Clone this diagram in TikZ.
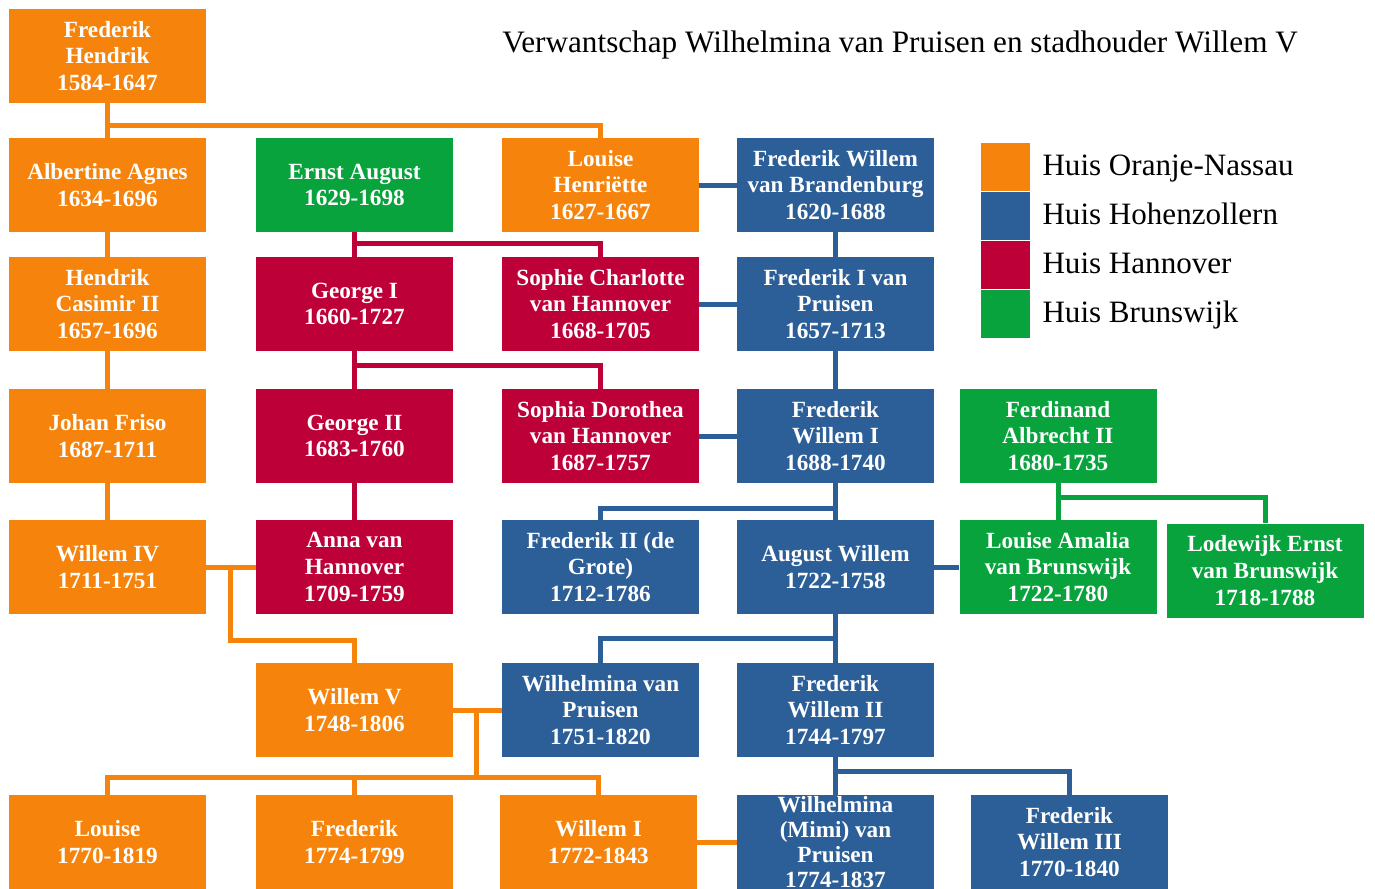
\documentclass[tikz,border=0pt]{standalone}
\usepackage{fontspec}
\setmainfont{Liberation Serif}
\newfontfamily\boxfont{Liberation Serif}
\usetikzlibrary{calc}
\definecolor{cOr}{HTML}{F6840C}
\definecolor{cBl}{HTML}{2C5E97}
\definecolor{cRe}{HTML}{BE0039}
\definecolor{cGr}{HTML}{08A33D}
\begin{document}
\begin{tikzpicture}[x=0.75pt,y=-0.75pt,
  box/.style={minimum width=147.75pt, minimum height=70.5pt, inner sep=0pt, align=center, text=white,
    font=\boxfont\bfseries\fontsize{17.4}{20}\selectfont},
  ob/.style={box, fill=cOr},
  bb/.style={box, fill=cBl},
  rb/.style={box, fill=cRe},
  gb/.style={box, fill=cGr},
  con/.style={line width=3.75pt},
  ocon/.style={con, draw=cOr},
  bcon/.style={con, draw=cBl},
  rcon/.style={con, draw=cRe},
  gcon/.style={con, draw=cGr},
  legsq/.style={minimum width=36.75pt, minimum height=36pt, inner sep=0pt},
  legtx/.style={anchor=base west, font=\fontsize{23.3}{26}\selectfont, inner sep=0pt},
]
\useasboundingbox (0,0) rectangle (1375,889);
\fill[white] (0,0) rectangle (1375,889);

% title
\node[font=\fontsize{23.4}{26}\selectfont] (title) at (900,45) {Verwantschap Wilhelmina van Pruisen en stadhouder Willem V};

% legend
\node[legsq, fill=cOr] (lg1) at (1005.5,167) {};
\node[legsq, fill=cBl] (lg2) at (1005.5,215.5) {};
\node[legsq, fill=cRe] (lg3) at (1005.5,264.5) {};
\node[legsq, fill=cGr] (lg4) at (1005.5,313.5) {};
\node[legtx] (lt1) at ($(lg1.east)+(12,8)$) {Huis Oranje-Nassau};
\node[legtx] (lt2) at ($(lg2.east)+(12,8.5)$) {Huis Hohenzollern};
\node[legtx] (lt3) at ($(lg3.east)+(12,8.5)$) {Huis Hannover};
\node[legtx] (lt4) at ($(lg4.east)+(12,9)$) {Huis Brunswijk};

% boxes
\node[ob] (fh) at (107.5,56) {Frederik\\Hendrik\\1584-1647};

\node[ob] (aa) at (107.5,185) {Albertine Agnes\\1634-1696};
\node[gb] (ea) at (354.5,185) {Ernst August\\1629-1698};
\node[ob] (lh) at (600.5,185) {Louise\\Henriëtte\\1627-1667};
\node[bb] (fwb) at (835.5,185) {Frederik Willem\\van Brandenburg\\1620-1688};

\node[ob] (hc) at (107.5,304) {Hendrik\\Casimir II\\1657-1696};
\node[rb] (g1) at (354.5,304) {George I\\1660-1727};
\node[rb] (sc) at (600.5,304) {Sophie Charlotte\\van Hannover\\1668-1705};
\node[bb] (f1) at (835.5,304) {Frederik I van\\Pruisen\\1657-1713};

\node[ob] (jf) at (107.5,436) {Johan Friso\\1687-1711};
\node[rb] (g2) at (354.5,436) {George II\\1683-1760};
\node[rb] (sd) at (600.5,436) {Sophia Dorothea\\van Hannover\\1687-1757};
\node[bb] (fw1) at (835.5,436) {Frederik\\Willem I\\1688-1740};
\node[gb] (fa) at (1058,436) {Ferdinand\\Albrecht II\\1680-1735};

\node[ob] (w4) at (107.5,567) {Willem IV\\1711-1751};
\node[rb] (anna) at (354.5,567) {Anna van\\Hannover\\1709-1759};
\node[bb] (f2) at (600.5,567) {Frederik II (de\\Grote)\\1712-1786};
\node[bb] (aw) at (835.5,567) {August Willem\\1722-1758};
\node[gb] (la) at (1058,567) {Louise Amalia\\van Brunswijk\\1722-1780};
\node[gb] (le) at (1265,570.5) {Lodewijk Ernst\\van Brunswijk\\1718-1788};

\node[ob] (w5) at (354.5,710) {Willem V\\1748-1806};
\node[bb] (wvp) at (600.5,710) {Wilhelmina van\\Pruisen\\1751-1820};
\node[bb] (fw2) at (835.5,710) {Frederik\\Willem II\\1744-1797};

\node[ob] (lou) at (107.5,842) {Louise\\1770-1819};
\node[ob] (fred) at (354.5,842) {Frederik\\1774-1799};
\node[ob] (w1) at (598.5,842) {Willem I\\1772-1843};
\node[bb, font=\boxfont\bfseries\fontsize{17.4}{18.75}\selectfont] (mimi) at (835.5,842) {Wilhelmina\\(Mimi) van\\Pruisen\\1774-1837};
\node[bb] (fw3) at (1069.5,842) {Frederik\\Willem III\\1770-1840};

% orange connectors
\draw[ocon] (fh.south) -- (aa.north);
\draw[ocon] (fh.south) ++(0,22) -| (lh.north);
\draw[ocon] (aa.south) -- (hc.north);
\draw[ocon] (hc.south) -- (jf.north);
\draw[ocon] (jf.south) -- (w4.north);
\draw[ocon] (w4.east) -- (anna.west);
\coordinate (m1) at ($(w4.east)+(24,0)$);
\draw[ocon] (m1) -- ++(0,73) -| (w5.north);
\draw[ocon] (w5.east) -- (wvp.west);
\coordinate (m2) at ($(w5.east)+(23,0)$);
\draw[ocon] (m2) -- ++(0,68);
\draw[ocon] (lou.north) -- ++(0,-17) -| (w1.north);
\draw[ocon] (fred.north) -- ++(0,-17);
\draw[ocon] (w1.east) -- (w1.east -| mimi.west);

% red connectors
\draw[rcon] (ea.south) -- (g1.north);
\draw[rcon] (ea.south) ++(0,11) -| (sc.north);
\draw[rcon] (g1.south) -- (g2.north);
\draw[rcon] (g1.south) ++(0,14) -| (sd.north);
\draw[rcon] (g2.south) -- (anna.north);

% blue connectors
\draw[bcon] (lh.east) -- (fwb.west);
\draw[bcon] (fwb.south) -- (f1.north);
\draw[bcon] (sc.east) -- (f1.west);
\draw[bcon] (f1.south) -- (fw1.north);
\draw[bcon] (sd.east) -- (fw1.west);
\draw[bcon] (fw1.south) -- (aw.north);
\draw[bcon] (fw1.south) ++(0,25) -| (f2.north);
\draw[bcon] (aw.east) -- (la.west);
\draw[bcon] (aw.south) -- (fw2.north);
\draw[bcon] (aw.south) ++(0,24) -| (wvp.north);
\draw[bcon] (fw2.south) -- (mimi.north);
\draw[bcon] (fw2.south) ++(0,14) -| (fw3.north);

% green connectors
\draw[gcon] (fa.south) -- (la.north);
\draw[gcon] (fa.south) ++(0,14) -| (le.north);
\end{tikzpicture}
\end{document}
